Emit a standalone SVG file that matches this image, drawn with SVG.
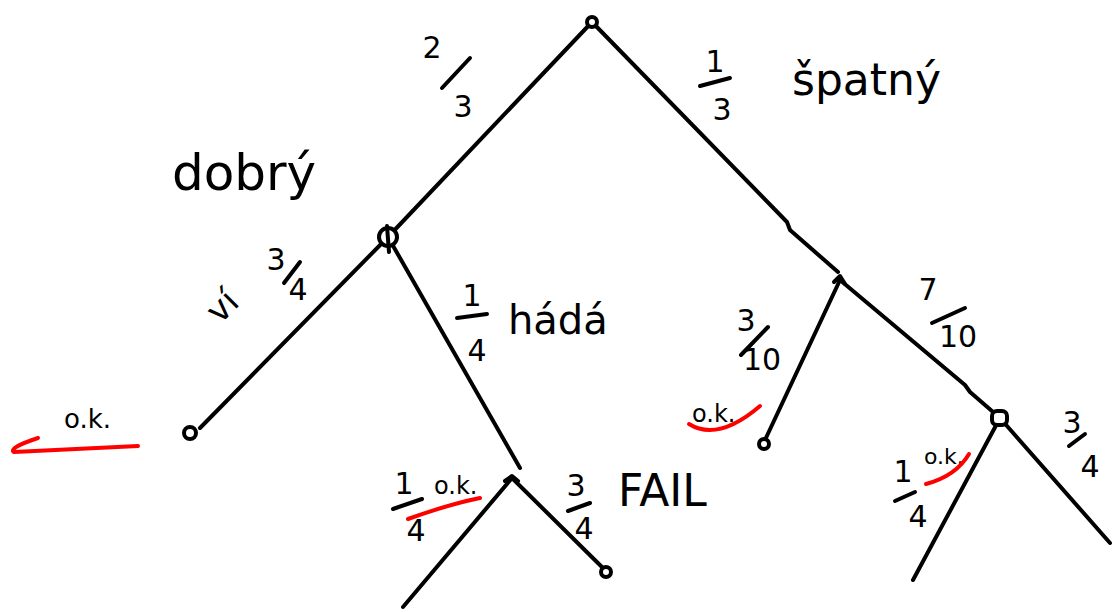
<svg xmlns="http://www.w3.org/2000/svg" width="1115" height="612" viewBox="0 0 1115 612">
<style>
.e{fill:none;stroke:#000;stroke-width:4;stroke-linecap:round;stroke-linejoin:round}
.n{fill:#fff;stroke:#000;stroke-width:4}
.t{font-family:"DejaVu Sans","Liberation Sans",sans-serif;fill:#000}
.f{font-family:"DejaVu Sans","Liberation Sans",sans-serif;fill:#000;text-anchor:middle;font-size:30px}
.b{fill:none;stroke:#000;stroke-width:4;stroke-linecap:round}
.r{fill:none;stroke:#f00;stroke-width:4;stroke-linecap:round;stroke-linejoin:round}
</style>
<rect width="1115" height="612" fill="#fff"/>
<g id="connectors">
  <path class="e" d="M592,22 L388,237"/>
  <path class="e" d="M592,22 L787,222 L790,230 L838,272"/>
  <path class="e" d="M388,237 L200,428"/>
  <path class="e" d="M388,237 L520,468"/>
  <path class="e" d="M512,478 L403,607"/>
  <path class="e" d="M512,478 L607,572"/>
  <path class="e" d="M840,280 L765,440"/>
  <path class="e" d="M840,280 L965,385 L970,392 L1000,418"/>
  <path class="e" d="M1000,418 L913,580"/>
  <path class="e" d="M1000,418 L1110,543"/>
</g>
<g id="root"><circle class="n" cx="592" cy="22" r="5"/></g>
<g id="node-dobry">
  <circle class="n" cx="388" cy="237" r="9"/>
  <path class="e" d="M387,226 L389,252"/>
  <text class="t" x="172" y="190" font-size="50">dobrý</text>
  <text class="f" x="432" y="58">2</text>
  <path class="b" d="M442,88 L470,58"/>
  <text class="f" x="463" y="117">3</text>
</g>
<g id="node-spatny">
  <path class="e" d="M834,282 L840,276 L845,284"/>
  <text class="t" x="792" y="95" font-size="44">špatný</text>
  <text class="f" x="715" y="72">1</text>
  <path class="b" d="M700,86 L730,78"/>
  <text class="f" x="722" y="120">3</text>
</g>
<g id="leaf-vi">
  <circle class="n" cx="190" cy="433" r="6"/>
  <text class="t" x="0" y="0" font-size="34" transform="translate(220,325) rotate(-45)">ví</text>
  <text class="f" x="276" y="270" font-size="24">3</text>
  <path class="b" d="M284,283 L300,262"/>
  <text class="f" x="298" y="300" font-size="22">4</text>
  <text class="t" x="64" y="428" font-size="26">o.k.</text>
  <path class="r" d="M38,438 Q8,448 14,452 L138,446"/>
</g>
<g id="node-hada">
  <text class="f" x="472" y="306">1</text>
  <path class="b" d="M457,318 L487,314"/>
  <text class="f" x="477" y="361">4</text>
  <text class="t" x="508" y="334" font-size="40">hádá</text>
</g>
<g id="node-guess">
  <path class="e" d="M505,481 L512,476 L518,481"/>
</g>
<g id="leaf-guess-ok">
  <text class="f" x="404" y="494">1</text>
  <path class="b" d="M393,509 L422,499"/>
  <text class="f" x="416" y="541">4</text>
  <text class="t" x="434" y="494" font-size="24">o.k.</text>
  <path class="r" d="M408,519 Q450,504 480,498"/>
</g>
<g id="leaf-fail">
  <circle class="n" cx="606" cy="572" r="5"/>
  <text class="f" x="576" y="496">3</text>
  <path class="b" d="M568,511 L590,503"/>
  <text class="f" x="584" y="539">4</text>
  <text class="t" x="618" y="506" font-size="44">FAIL</text>
</g>
<g id="leaf-spatny-ok">
  <circle class="n" cx="764" cy="444" r="5"/>
  <text class="f" x="746" y="331" font-size="26">3</text>
  <path class="b" d="M741,355 L768,327"/>
  <text class="f" x="762" y="370" font-size="20">10</text>
  <text class="t" x="692" y="422" font-size="24">o.k.</text>
  <path class="r" d="M689,424 Q718,442 760,406"/>
</g>
<g id="node-spatny-guess">
  <rect x="992" y="411" width="15" height="14" rx="5" class="n"/>
  <text class="f" x="928" y="300" font-size="28">7</text>
  <path class="b" d="M932,323 L965,308"/>
  <text class="f" x="958" y="347" font-size="22">10</text>
</g>
<g id="leaf-spatny-guess-ok">
  <text class="f" x="903" y="482" font-size="26">1</text>
  <path class="b" d="M895,501 L915,492"/>
  <text class="f" x="918" y="527" font-size="26">4</text>
  <text class="t" x="924" y="464" font-size="22">o.k.</text>
  <path class="r" d="M926,484 Q956,476 969,454"/>
</g>
<g id="leaf-spatny-guess-fail">
  <text class="f" x="1072" y="433" font-size="28">3</text>
  <path class="b" d="M1069,446 L1085,434"/>
  <text class="f" x="1090" y="477" font-size="28">4</text>
</g>
</svg>
